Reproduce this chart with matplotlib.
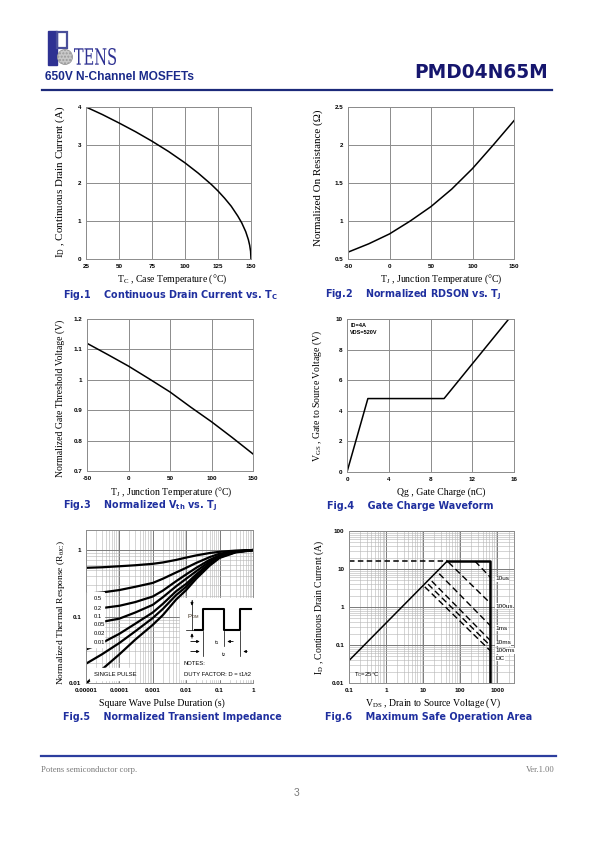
import numpy as np
import matplotlib
matplotlib.use("Agg")
import matplotlib.pyplot as plt
from matplotlib.patches import Rectangle, Circle, FancyArrowPatch, PathPatch
from matplotlib.textpath import TextPath
from matplotlib.font_manager import FontProperties
from matplotlib.transforms import Affine2D
from matplotlib.ticker import LogLocator, NullFormatter

W, H = 595, 842
plt.rcParams['mathtext.fontset'] = 'custom'
plt.rcParams['mathtext.rm'] = 'Liberation Serif'

# ---- data ----
# Fig.1 continuous drain current vs case temperature
tc = [25, 37.5, 50, 62.5, 75, 87.5, 100, 110, 120, 125, 130, 135, 140, 143, 146, 148, 149, 149.7, 150]
id_tc = [4.0, 3.8, 3.58, 3.35, 3.1, 2.83, 2.53, 2.26, 1.96, 1.79, 1.6, 1.39, 1.13, 0.95, 0.72, 0.51, 0.36, 0.2, 0.0]

# Fig.2 normalized RDSON vs junction temperature
tj2 = [-50, -25, 0, 25, 50, 75, 100, 125, 150]
rdson = [0.59, 0.70, 0.83, 1.0, 1.19, 1.42, 1.69, 2.0, 2.32]

# Fig.3 normalized Vth vs junction temperature
tj3 = [-50, -25, 0, 25, 50, 75, 100, 125, 150]
vth = [1.12, 1.083, 1.045, 1.003, 0.96, 0.91, 0.862, 0.81, 0.756]

# Fig.4 gate charge waveform
qg = [0, 2.0, 9.3, 15.5]
vgs = [0, 4.8, 4.8, 10]

# Fig.5 transient thermal impedance
t_pulse = [1e-5, 3e-5, 1e-4, 3e-4, 1e-3, 2e-3, 5e-3, 1e-2, 2e-2, 5e-2, 0.1, 0.3, 1.0]
zth = {
    "0.5": [0.54, 0.55, 0.57, 0.59, 0.62, 0.65, 0.71, 0.77, 0.83, 0.90, 0.94, 0.98, 1.0],
    "0.2": [0.22, 0.23, 0.25, 0.28, 0.32, 0.37, 0.46, 0.54, 0.64, 0.78, 0.88, 0.96, 1.0],
    "0.1": [0.128, 0.134, 0.145, 0.165, 0.20, 0.245, 0.34, 0.43, 0.54, 0.71, 0.83, 0.95, 1.0],
    "0.05": [0.078, 0.083, 0.093, 0.115, 0.15, 0.195, 0.285, 0.37, 0.48, 0.67, 0.81, 0.94, 1.0],
    "0.02": [0.032, 0.040, 0.055, 0.078, 0.115, 0.155, 0.24, 0.31, 0.43, 0.63, 0.79, 0.94, 1.0],
    "0.01": [0.0195, 0.027, 0.040, 0.060, 0.095, 0.13, 0.21, 0.28, 0.40, 0.61, 0.78, 0.93, 1.0],
    "SINGLE PULSE": [0.0098, 0.016, 0.027, 0.045, 0.075, 0.105, 0.18, 0.25, 0.37, 0.58, 0.76, 0.92, 0.99],
}

# Fig.6 safe operating area
rds_v = [0.1, 44]
rds_i = [0.039, 16]
lim_v = [44, 650, 650]
lim_i = [16, 16, 0.01]
cur_v = [0.1, 44]
cur_i = [16, 16]
soa_names = ["10us", "100us", "1ms", "10ms", "100ms", "DC"]
soa_v = [[250, 650], [48, 650], [27, 650], [17, 650], [13.5, 650], [11, 650]]
soa_i = [[16, 6.0], [15, 1.25], [7.5, 0.32], [4.8, 0.13], [4.0, 0.095], [3.4, 0.07]]

GRID = "#8c8c8c"
BLUE = "#1f2f9f"
NAVY = "#16166e"
SERIF = ["Liberation Serif", "DejaVu Serif"]
SANS = ["Liberation Sans", "DejaVu Sans"]

fig = plt.figure(figsize=(W / 100, H / 100), dpi=100)


def place(l, t, r, b):
    return fig.add_axes([l / W, 1 - b / H, (r - l) / W, (b - t) / H])


def style(ax, xt, xlab, yt, ylab):
    ax.set_xticks(xt)
    ax.set_xticklabels(xlab)
    ax.set_yticks(yt)
    ax.set_yticklabels(ylab)
    ax.tick_params(length=0, labelsize=4.5, pad=3.5)
    for lab in ax.get_xticklabels() + ax.get_yticklabels():
        lab.set_fontweight("bold")
        lab.set_family(SANS)
    for s in ax.spines.values():
        s.set_color(GRID)
        s.set_linewidth(0.7)


# Fig.1
ax1 = place(86, 107, 251, 259)
ax1.plot(tc, id_tc, color="black", lw=1.1)
ax1.set_xlim(25, 150)
ax1.set_ylim(0, 4)
ax1.grid(True, color=GRID, lw=0.7)
style(ax1, [25, 50, 75, 100, 125, 150], ["25", "50", "75", "100", "125", "150"],
      [0, 1, 2, 3, 4], ["0", "1", "2", "3", "4"])

# Fig.2
ax2 = place(348, 107, 514, 259)
ax2.plot(tj2, rdson, color="black", lw=1.1)
ax2.set_xlim(-50, 150)
ax2.set_ylim(0.5, 2.5)
ax2.grid(True, color=GRID, lw=0.7)
style(ax2, [-50, 0, 50, 100, 150], ["-50", "0", "50", "100", "150"],
      [0.5, 1, 1.5, 2, 2.5], ["0.5", "1", "1.5", "2", "2.5"])

# Fig.3
ax3 = place(87, 319, 253, 471)
ax3.plot(tj3, vth, color="black", lw=1.1)
ax3.set_xlim(-50, 150)
ax3.set_ylim(0.7, 1.2)
ax3.grid(True, color=GRID, lw=0.7)
style(ax3, [-50, 0, 50, 100, 150], ["-50", "0", "50", "100", "150"],
      [0.7, 0.8, 0.9, 1.0, 1.1, 1.2], ["0.7", "0.8", "0.9", "1", "1.1", "1.2"])

# Fig.4
ax4 = place(347, 319, 514, 472)
ax4.plot(qg, vgs, color="black", lw=1.1)
ax4.set_xlim(0, 16)
ax4.set_ylim(0, 10)
ax4.grid(True, color=GRID, lw=0.7)
style(ax4, [0, 4, 8, 12, 16], ["0", "4", "8", "12", "16"],
      [0, 2, 4, 6, 8, 10], ["0", "2", "4", "6", "8", "10"])
ax4.text(0.3, 9.75, "ID=4A\nVDS=520V", fontsize=4, fontweight="bold", family=SANS,
         va="top", linespacing=1.6)


def log_grid(ax):
    ax.xaxis.set_minor_locator(LogLocator(base=10, subs=np.arange(2, 10)))
    ax.yaxis.set_minor_locator(LogLocator(base=10, subs=np.arange(2, 10)))
    ax.xaxis.set_minor_formatter(NullFormatter())
    ax.yaxis.set_minor_formatter(NullFormatter())
    ax.grid(True, which="major", color="#7a7a7a", lw=0.7)
    ax.grid(True, which="minor", color="#b5b5b5", lw=0.4)
    ax.tick_params(which="minor", length=0)


# Fig.5
ax5 = place(86, 530, 253, 683)
ax5.set_xscale("log")
ax5.set_yscale("log")
for name, vals in zth.items():
    ax5.plot(t_pulse, vals, color="black", lw=1.6)
ax5.set_xlim(1e-5, 1)
ax5.set_ylim(0.01, 2)
style(ax5, [1e-5, 1e-4, 1e-3, 1e-2, 0.1, 1], ["0.00001", "0.0001", "0.001", "0.01", "0.1", "1"],
      [0.01, 0.1, 1], ["0.01", "0.1", "1"])
log_grid(ax5)

# Fig.6
ax6 = place(349, 531, 514, 683)
ax6.set_xscale("log")
ax6.set_yscale("log")
ax6.plot(rds_v, rds_i, color="black", lw=1.1)
ax6.plot(lim_v, lim_i, color="black", lw=1.8)
ax6.plot(cur_v, cur_i, color="black", lw=1.1, dashes=(3.6, 2.2))
for v, i in zip(soa_v, soa_i):
    ax6.plot(v, i, color="black", lw=1.0, dashes=(4.5, 2.5))
ax6.set_xlim(0.1, 2800)
ax6.set_ylim(0.01, 100)
style(ax6, [0.1, 1, 10, 100, 1000], ["0.1", "1", "10", "100", "1000"],
      [0.01, 0.1, 1, 10, 100], ["0.01", "0.1", "1", "10", "100"])
log_grid(ax6)

# ---- overlay in page pixels ----
ov = fig.add_axes([0, 0, 1, 1])
ov.set_xlim(0, W)
ov.set_ylim(H, 0)
ov.axis("off")
ov.set_zorder(10)

# header logo
ov.add_patch(Rectangle((48, 31), 9, 34, color="#2e3192"))
ov.add_patch(Rectangle((57, 32), 10, 16, fill=False, ec="#4a4f9a", lw=1.6))
ov.add_patch(Circle((65, 57), 7.5, fc="#c8c8c8", ec="#9a9a9a", lw=0.6, hatch="....."))
tp = TextPath((0, 0), "TENS", size=1, prop=FontProperties(family="DejaVu Serif"))
ext = tp.get_extents()
sx = 42 / ext.width
sy = 17 / ext.height
tr = Affine2D().translate(-ext.x0, -ext.y0).scale(sx, -sy).translate(74, 65) + ov.transData
ov.add_patch(PathPatch(tp, transform=tr, fc="#2e3192", ec="none"))

ov.text(45, 77, "650V N-Channel MOSFETs", fontsize=8.6, fontweight="bold", color="#1a2a8a",
        family=SANS, va="center")
ov.text(548, 73, "PMD04N65M", fontsize=13.4, fontweight="bold", color=NAVY,
        family=["DejaVu Sans"], va="center", ha="right")
ov.plot([42, 552], [89.5, 89.5], color="#1c2a7a", lw=1.6)

# axis labels
xl = [(172, 279, "T$_\\mathregular{C}$ , Case Temperature (°C)", 7),
      (441, 279, "T$_\\mathregular{J}$ , Junction Temperature (°C)", 7),
      (171, 492, "T$_\\mathregular{J}$ , Junction Temperature (°C)", 7),
      (441, 492, "Qg , Gate Charge (nC)", 7),
      (162, 703, "Square Wave Pulse Duration (s)", 7),
      (433, 703, "V$_\\mathregular{DS}$ , Drain to Source Voltage (V)", 7)]
for x, y, s, fs in xl:
    ov.text(x, y, s, fontsize=fs, family=SERIF, ha="center", va="center")
yl = [(60, 182, "I$_\\mathregular{D}$ , Continuous Drain Current (A)", 7.9),
      (318, 178, "Normalized On Resistance (\u03a9)", 7.9),
      (60, 398, "Normalized Gate Threshold Voltage (V)", 7),
      (317, 396, "V$_\\mathregular{GS}$ , Gate to Source Voltage (V)", 7),
      (61, 612, "Normalized Thermal Response (R$_\\mathregular{\u03b8JC}$)", 6.8),
      (319, 607, "I$_\\mathregular{D}$ , Continuous Drain Current (A)", 7)]
for x, y, s, fs in yl:
    ov.text(x, y, s, fontsize=fs, family=SERIF, ha="center", va="center", rotation=90)

# captions
caps = [(63, 295, "Fig.1    Continuous Drain Current vs. T$_\\mathregular{C}$"),
        (325, 295, "Fig.2    Normalized RDSON vs. T$_\\mathregular{J}$"),
        (63, 506, "Fig.3    Normalized V$_\\mathregular{th}$ vs. T$_\\mathregular{J}$"),
        (327, 506, "Fig.4    Gate Charge Waveform"),
        (63, 717, "Fig.5    Normalized Transient Impedance"),
        (325, 717, "Fig.6    Maximum Safe Operation Area")]
for x, y, s in caps:
    ov.text(x, y, s, fontsize=6.9, fontweight="bold", color=BLUE, family=["DejaVu Sans"],
            ha="left", va="center")

# Fig.5 legend box, single pulse box and inset
ov.add_patch(Rectangle((86.5, 592), 17, 55, color="white"))
for k, y in zip(list(zth.keys())[:6], [599, 608, 617, 625, 633.5, 642]):
    ov.text(94, y, k, fontsize=4.2, family=SANS, va="center")
ov.add_patch(Rectangle((90, 668), 42, 12, color="white"))
ov.text(94, 674, "SINGLE PULSE", fontsize=4.2, family=SANS, va="center")
ov.add_patch(Rectangle((180, 598), 73, 81, color="white"))
ov.plot([195, 203, 203, 224, 224, 240, 240, 250.5],
        [630, 630, 609, 609, 630, 630, 609, 609], color="black", lw=1.5)
ov.plot([203, 203], [631, 656], color="black", lw=0.5)
ov.plot([224, 224], [631, 646], color="black", lw=0.5)
ov.plot([240, 240], [631, 656], color="black", lw=0.5)
ov.plot([192, 192], [600, 630], color="black", lw=0.5)
ov.plot([186, 198], [630, 630], color="black", lw=0.5)
arrows = [((192, 598), (192, 608.5)), ((192, 641), (192, 630.5)),
          ((188, 641.5), (202.5, 641.5)), ((236, 641.5), (224.5, 641.5)),
          ((188, 651.5), (202.5, 651.5)), ((250, 651.5), (240.5, 651.5))]
for a, b in arrows:
    ov.add_patch(FancyArrowPatch(a, b, arrowstyle="-|>", mutation_scale=4, lw=0.6, color="black"))
ov.text(187, 617, "P$_\\mathregular{DM}$", fontsize=4.3, family=SANS, va="center", color="#3a2a1a")
ov.text(214, 643, "t$_\\mathregular{1}$", fontsize=4.3, family=SANS, va="center")
ov.text(221, 655, "t$_\\mathregular{2}$", fontsize=4.3, family=SANS, va="center")
ov.text(184, 663.5, "NOTES:", fontsize=4.2, family=SANS, va="center")
ov.text(184, 674, "DUTY FACTOR: D = t1/t2", fontsize=4.2, family=SANS, va="center")

# Fig.6 labels
for name, y in zip(soa_names, [579, 606, 628, 643, 651, 658]):
    ov.text(495, y, name, fontsize=4.6, family=SANS, va="center",
            bbox=dict(fc="white", ec="none", pad=0.3))
ov.text(354, 675, "T$_\\mathregular{C}$=25°C", fontsize=4.3, family=SANS, va="center")

# footer
ov.plot([41, 556], [755.5, 755.5], color="#2c3e9e", lw=1.6)
ov.text(41, 770.5, "Potens semiconductor corp.", fontsize=6.2, color="#7a7a7a", family=SERIF, va="center")
ov.text(555, 770.5, "Ver.1.00", fontsize=6.2, color="#7a7a7a", family=SERIF, va="center", ha="right")
ov.text(297, 793, "3", fontsize=7.5, color="#7a7a7a", family=SANS, va="center", ha="center")

fig.savefig("out.png", dpi=100)
